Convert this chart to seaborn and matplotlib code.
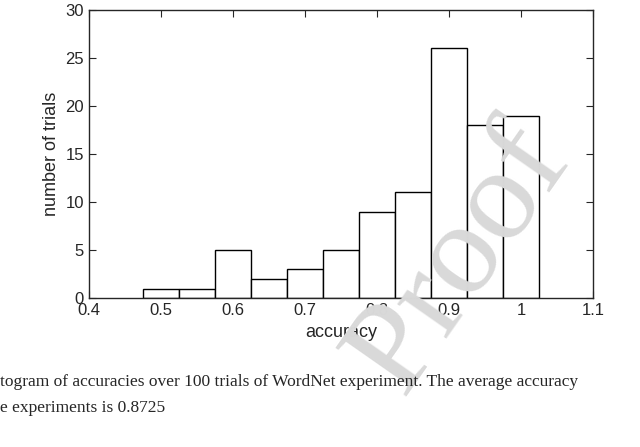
import numpy as np
import pandas as pd
import matplotlib
matplotlib.use("Agg")
import matplotlib.pyplot as plt
import seaborn as sns

bin_centers = [0.5, 0.55, 0.6, 0.65, 0.7, 0.75, 0.8, 0.85, 0.9, 0.95, 1.0]
counts = [1, 1, 5, 2, 3, 5, 9, 11, 26, 18, 19]
xticks = [0.4, 0.5, 0.6, 0.7, 0.8, 0.9, 1.0, 1.1]
xticklabels = ["0.4", "0.5", "0.6", "0.7", "0.8", "0.9", "1", "1.1"]
yticks = [0, 5, 10, 15, 20, 25, 30]

sns.set_style("ticks")
plt.rcParams['font.family'] = ['Liberation Sans', 'DejaVu Sans']

fig = plt.figure(figsize=(6.4, 4.47), dpi=100)
ax = fig.add_axes([0.139, 0.333, 0.788, 0.645])

df = pd.DataFrame({"accuracy": bin_centers, "n": counts})
edges = [float(c) - 0.025 for c in bin_centers] + [1.025]
sns.histplot(data=df, x="accuracy", weights="n", bins=edges, ax=ax,
             facecolor="white", edgecolor="black", linewidth=1.0, alpha=1)

ax.set_xlim(0.4, 1.1)
ax.set_ylim(0, 30)
ax.set_xticks(xticks)
ax.set_xticklabels(xticklabels)
ax.set_yticks(yticks)
ax.tick_params(direction="in", top=True, right=True, labelsize=12, length=5)
for s in ax.spines.values():
    s.set_visible(True)
    s.set_linewidth(1)
ax.set_xlabel("accuracy", fontsize=13)
ax.set_ylabel("number of trials", fontsize=13)

fig.text(0.72, 0.42, "Proof", fontsize=95, color="#d9d9d9", rotation=55,
         ha="center", va="center", family="Liberation Serif", zorder=0)
fig.text(0.0, 0.145, "togram of accuracies over 100 trials of WordNet experiment. The average accuracy",
         fontsize=12.5, family="Liberation Serif", va="center")
fig.text(0.0, 0.087, "e experiments is 0.8725", fontsize=12.5, family="Liberation Serif", va="center")

fig.savefig("out.png", dpi=100)
